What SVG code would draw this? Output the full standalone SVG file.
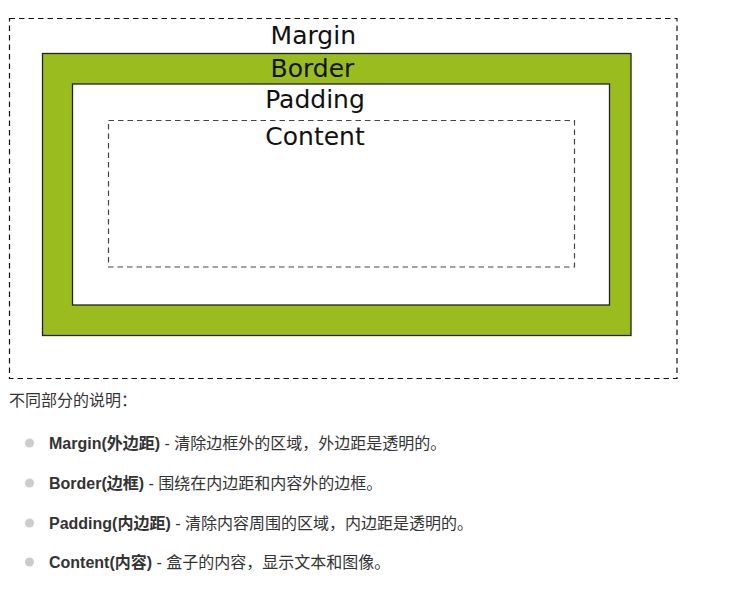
<svg xmlns="http://www.w3.org/2000/svg" width="739" height="589" viewBox="0 0 739 589">
<style>
.lbl{font-family:"DejaVu Sans",Verdana,sans-serif;font-size:25px;fill:#111;text-anchor:middle}
.txt{font-family:"Liberation Sans",Arial,"Noto Sans CJK SC",sans-serif;font-size:16px;fill:#333}
.b{font-weight:bold}
.dot{fill:#cccccc}
</style>
<rect width="739" height="589" fill="#fff"/>
<g id="margin">
<rect x="9.5" y="18.5" width="667.5" height="360" fill="none" stroke="#111" stroke-width="1.2" stroke-dasharray="5.5,4"/>
<text class="lbl" x="313.3" y="44">Margin</text>
</g>
<g id="border">
<rect x="42.5" y="53.5" width="588.5" height="282" fill="#9abc1f" stroke="#222" stroke-width="1.3"/>
<text class="lbl" x="312.5" y="77">Border</text>
</g>
<g id="padding">
<rect x="72.5" y="84" width="537" height="221" fill="#fff" stroke="#222" stroke-width="1.3"/>
<text class="lbl" x="315" y="107.5">Padding</text>
</g>
<g id="content">
<rect x="108.5" y="120.5" width="466" height="146.5" fill="none" stroke="#444" stroke-width="1.2" stroke-dasharray="5.5,4"/>
<text class="lbl" x="315" y="144.5">Content</text>
</g>
<g id="desc">
<text class="txt" x="9" y="406">不同部分的说明：</text>
<circle class="dot" cx="29.5" cy="443" r="4.5"/>
<text class="txt" x="49" y="448.5"><tspan class="b">Margin(外边距)</tspan> - 清除边框外的区域，外边距是透明的。</text>
<circle class="dot" cx="29.5" cy="483" r="4.5"/>
<text class="txt" x="49" y="488.5"><tspan class="b">Border(边框)</tspan> - 围绕在内边距和内容外的边框。</text>
<circle class="dot" cx="29.5" cy="523" r="4.5"/>
<text class="txt" x="49" y="528.5"><tspan class="b">Padding(内边距)</tspan> - 清除内容周围的区域，内边距是透明的。</text>
<circle class="dot" cx="29.5" cy="562" r="4.5"/>
<text class="txt" x="49" y="567.5"><tspan class="b">Content(内容)</tspan> - 盒子的内容，显示文本和图像。</text>
</g>
</svg>
